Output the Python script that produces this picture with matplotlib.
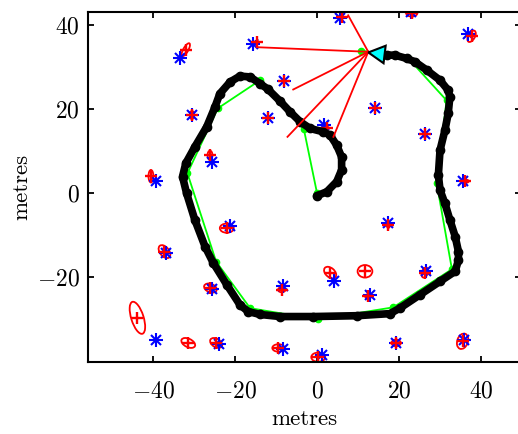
import numpy as np
import matplotlib
matplotlib.use("Agg")
import matplotlib.pyplot as plt
from matplotlib.patches import Ellipse, Polygon

plt.rcParams.update({
    "font.family": "serif",
    "font.serif": ["cmr10", "DejaVu Serif"],
    "mathtext.fontset": "cm",
    "axes.formatter.use_mathtext": True,
    "font.size": 17,
})

# True landmark positions (metres)
true_lm_x = [-33.3, -15.5, -8.0, -30.5, -11.9, -25.5, -39.3, 5.6, 23.0, 36.9,
             14.1, 1.8, 26.3, 35.6, 17.4, 4.1, 12.9, 26.5, -8.2, 19.3,
             35.9, 1.1, -8.4, -21.2, -36.8, -25.7, -39.3, -23.8]
true_lm_y = [32.1, 35.6, 26.7, 18.6, 17.8, 7.5, 2.9, 41.8, 43.1, 38.0,
             20.2, 16.2, 14.0, 2.8, -7.1, -21.1, -24.3, -18.6, -22.3, -35.8,
             -35.0, -38.6, -37.2, -7.9, -14.4, -22.9, -35.2, -36.0]

# Estimated landmark positions with covariance ellipse axes (metres) and angle (deg)
est_lm_x = [-32.0, -14.7, -8.0, -30.5, -11.9, -26.1, -40.5, 6.0, 23.1, 37.7,
            14.1, 2.4, 26.3, 36.1, 17.4, 3.2, 11.7, 12.5, 26.3, -8.6,
            19.3, 35.5, 0.3, -9.4, -22.0, -37.2, -26.0, -43.8, -31.4, -24.6]
est_lm_y = [34.2, 36.0, 26.7, 18.6, 17.8, 9.0, 4.0, 41.9, 43.0, 37.4,
            20.2, 15.5, 14.0, 2.8, -7.6, -19.0, -18.7, -24.7, -19.0, -23.1,
            -35.8, -35.4, -39.2, -37.0, -8.4, -14.0, -22.7, -29.8, -35.8, -35.8]
ell_major = [3.5, 1.0, 1.0, 2.0, 1.0, 2.2, 3.0, 1.0, 2.8, 3.0,
             1.0, 1.0, 1.5, 1.8, 1.5, 3.4, 3.6, 1.5, 2.5, 1.8,
             2.2, 3.8, 3.4, 3.0, 3.4, 3.6, 3.2, 8.0, 3.6, 3.2]
ell_minor = [1.2, 0.6, 0.6, 1.0, 0.6, 1.2, 1.2, 0.6, 1.8, 1.6,
             0.6, 0.6, 0.8, 0.8, 0.8, 2.2, 3.0, 1.0, 1.5, 1.2,
             1.6, 2.6, 2.2, 1.8, 2.2, 2.2, 2.0, 3.0, 2.0, 2.0]
ell_angle = [60, 0, 0, 90, 0, 90, 90, 0, 0, 60,
             0, 0, 90, 0, 90, -40, 0, 0, 70, 0,
             0, 70, 0, 0, 0, -50, -20, 108, -25, -30]

# True robot path (sparse)
true_path_x = [0.0, -3.2, -13.9, -24.2, -31.6, -24.6, -16.3, 0.2, 18.6, 32.9,
               29.2, 31.6, 22.3, 10.7]
true_path_y = [0.0, 15.2, 26.9, 20.2, 4.7, -16.4, -27.5, -30.2, -27.3, -18.2,
               2.3, 22.1, 32.1, 34.0]

# Estimated robot path
est_path_x = [-0.1, 2.4, 4.8, 6.0, 6.0, 4.8, 3.2, 1.5, -1.7, -4.1,
              -6.6, -9.0, -12.0, -13.9, -16.3, -18.8, -21.2, -23.7, -24.9, -26.9,
              -29.8, -32.0, -32.8, -31.8, -29.8, -27.3, -25.3, -22.0, -18.8, -16.8,
              -13.9, -9.0, -0.9, 9.7, 17.8, 20.2, 25.1, 30.0, 33.7, 34.5,
              34.5, 33.7, 32.4, 31.2, 30.0, 29.6, 30.0, 31.2, 32.0, 32.4,
              32.0, 30.0, 26.8, 23.9, 21.9, 19.0, 17.0]
est_path_y = [-0.7, 0.3, 2.7, 5.5, 8.6, 11.4, 13.8, 14.6, 15.4, 17.0,
              19.4, 21.9, 24.8, 26.1, 27.7, 27.9, 26.5, 23.7, 20.5, 15.8,
              11.0, 7.1, 3.9, -0.1, -6.4, -12.8, -16.7, -21.9, -26.7, -28.3,
              -29.0, -29.5, -29.5, -29.3, -28.8, -27.5, -24.3, -21.1, -18.7, -16.0,
              -14.0, -10.4, -6.4, -2.5, 0.7, 4.3, 10.2, 15.0, 19.0, 22.9,
              24.5, 26.9, 29.3, 31.3, 32.1, 32.9, 32.9]

# Robot pose and sensor readings
robot_x, robot_y, robot_theta = 14.5, 33.3, np.deg2rad(173)
sensor_origin = (12.5, 33.7)
ray_end_x = [7.6, -14.7, -5.8, -7.2, 4.0]
ray_end_y = [42.4, 34.8, 24.7, 13.4, 13.4]

fig = plt.figure(figsize=(5.18, 4.34), dpi=100)
ax = fig.add_axes([88 / 518, 72 / 434, (521 - 88) / 518, (362 - 12) / 434])

# landmarks: true (blue asterisks), estimated (red plus + ellipse)
ax.plot(true_lm_x, true_lm_y, ls="none", marker="+", ms=10, mew=1.5, color="blue")
ax.plot(true_lm_x, true_lm_y, ls="none", marker="x", ms=6.5, mew=1.5, color="blue")
ax.plot(est_lm_x, est_lm_y, ls="none", marker="+", ms=9, mew=1.7, color="red")
for x, y, a, b, ang in zip(est_lm_x, est_lm_y, ell_major, ell_minor, ell_angle):
    ax.add_patch(Ellipse((x, y), a, b, angle=ang, fill=False, ec="red", lw=1.3))

# paths
ax.plot(est_path_x, est_path_y, color="black", lw=5.5, marker="o", ms=6,
        solid_capstyle="round", solid_joinstyle="round", zorder=3)
ax.plot(true_path_x, true_path_y, color="#00ff00", lw=1.3, marker="o", ms=4.5,
        zorder=2)

# sensor rays
for ex, ey in zip(ray_end_x, ray_end_y):
    ax.plot([sensor_origin[0], ex], [sensor_origin[1], ey], color="red", lw=1.3,
            zorder=4)

# robot triangle
L, W = 4.0, 2.1
c, s = np.cos(robot_theta), np.sin(robot_theta)
local = np.array([[L / 2, 0.0], [-L / 2, W], [-L / 2, -W]])
pts = np.column_stack([robot_x + local[:, 0] * c - local[:, 1] * s,
                       robot_y + local[:, 0] * s + local[:, 1] * c])
ax.add_patch(Polygon(pts, closed=True, fc="cyan", ec="black", lw=1.5, zorder=5))

ax.set_xlim(-55.85, 49.75)
ax.set_ylim(-40.35, 43.2)
ax.set_xticks([-40, -20, 0, 20, 40])
ax.set_yticks([-20, 0, 20, 40])
ax.tick_params(direction="in", length=4, width=1.3, top=True, right=True,
               labelsize=17)
ax.tick_params(axis="x", pad=13)
ax.tick_params(axis="y", pad=6)
for sp in ax.spines.values():
    sp.set_linewidth(1.5)
ax.set_xlabel("metres", fontsize=16.5, labelpad=5)
ax.set_ylabel("metres", fontsize=16.5, labelpad=4)

fig.savefig("out.png", dpi=100)
